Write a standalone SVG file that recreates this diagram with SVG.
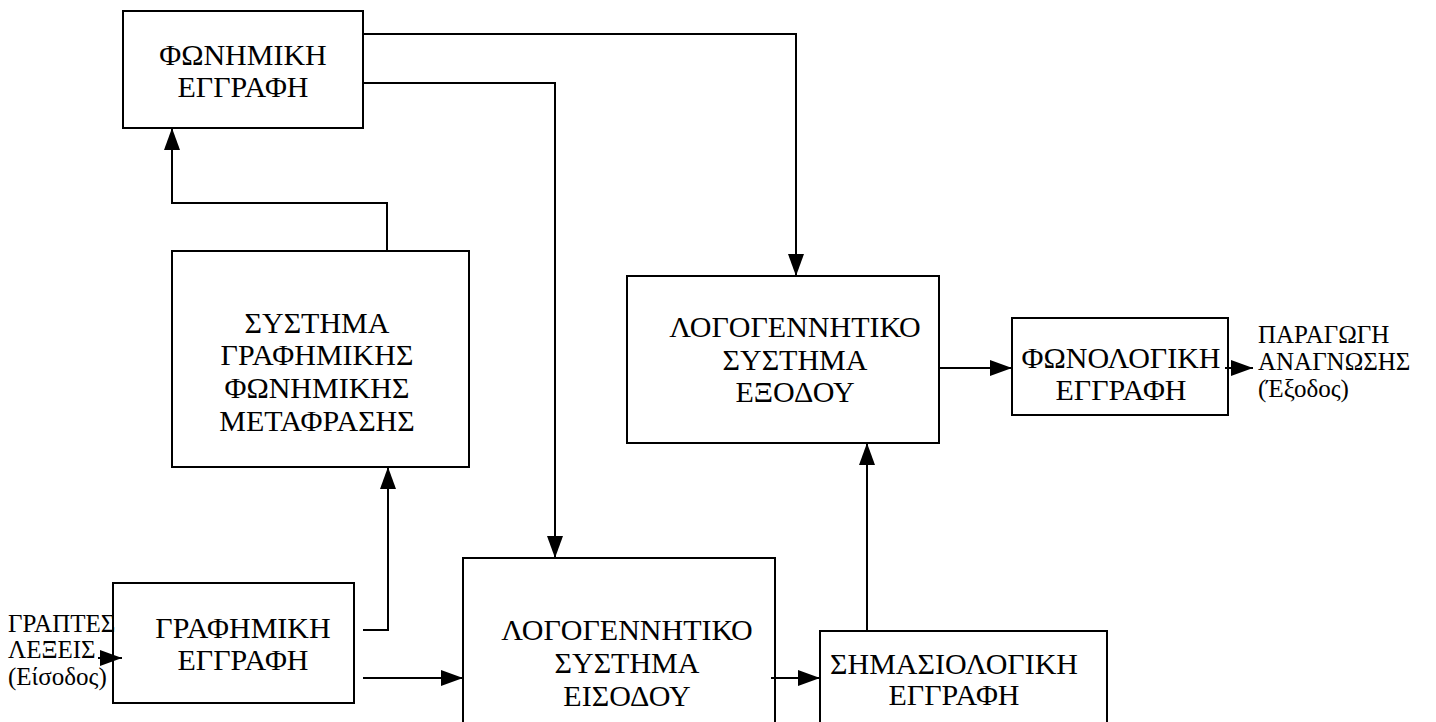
<svg xmlns="http://www.w3.org/2000/svg" width="1436" height="722" viewBox="0 0 1436 722">
<style>
.box{fill:#fff;stroke:#000;stroke-width:2}
text{font-family:"Liberation Serif","Times New Roman","DejaVu Serif",serif;fill:#000}
.t{font-size:30px;text-anchor:middle}
.s{font-size:25px}
.c{fill:none;stroke:#000;stroke-width:2}
</style>
<defs>
<marker id="ah" markerUnits="userSpaceOnUse" markerWidth="22" markerHeight="16" refX="22" refY="8" orient="auto">
<path d="M0,0 L22,8 L0,16 z" fill="#000"/>
</marker>
</defs>
<rect width="1436" height="722" fill="#fff"/>
<g id="n-phonimiki">
<rect class="box" x="123" y="11" width="240" height="117"/>
<text class="t" x="243" y="65">ΦΩΝΗΜΙΚΗ</text>
<text class="t" x="243" y="97">ΕΓΓΡΑΦΗ</text>
</g>
<g id="n-systima">
<rect class="box" x="172" y="251" width="297" height="216"/>
<text class="t" x="317" y="333">ΣΥΣΤΗΜΑ</text>
<text class="t" x="317" y="365">ΓΡΑΦΗΜΙΚΗΣ</text>
<text class="t" x="317" y="398">ΦΩΝΗΜΙΚΗΣ</text>
<text class="t" x="317" y="431">ΜΕΤΑΦΡΑΣΗΣ</text>
</g>
<g id="n-grafimiki">
<rect class="box" x="113" y="583" width="241" height="120"/>
<text class="t" x="243" y="638">ΓΡΑΦΗΜΙΚΗ</text>
<text class="t" x="243" y="670">ΕΓΓΡΑΦΗ</text>
</g>
<g id="n-eisodou">
<rect class="box" x="463" y="558" width="312" height="180"/>
<text class="t" x="627" y="640">ΛΟΓΟΓΕΝΝΗΤΙΚΟ</text>
<text class="t" x="627" y="673">ΣΥΣΤΗΜΑ</text>
<text class="t" x="627" y="706">ΕΙΣΟΔΟΥ</text>
</g>
<g id="n-simasiologiki">
<rect class="box" x="820" y="631" width="287" height="110"/>
<text class="t" x="954" y="674">ΣΗΜΑΣΙΟΛΟΓΙΚΗ</text>
<text class="t" x="954" y="705">ΕΓΓΡΑΦΗ</text>
</g>
<g id="n-exodou">
<rect class="box" x="627" y="276" width="312" height="167"/>
<text class="t" x="795" y="337">ΛΟΓΟΓΕΝΝΗΤΙΚΟ</text>
<text class="t" x="795" y="370">ΣΥΣΤΗΜΑ</text>
<text class="t" x="795" y="402">ΕΞΟΔΟΥ</text>
</g>
<g id="n-phonologiki">
<rect class="box" x="1012" y="318" width="216" height="97"/>
<text class="t" x="1121" y="368">ΦΩΝΟΛΟΓΙΚΗ</text>
<text class="t" x="1121" y="400">ΕΓΓΡΑΦΗ</text>
</g>
<g id="l-input">
<text class="s" x="8" y="632">ΓΡΑΠΤΕΣ</text>
<text class="s" x="8" y="658">ΛΕΞΕΙΣ</text>
<text class="s" x="8" y="685">(Είσοδος)</text>
</g>
<g id="l-output">
<text class="s" x="1258" y="343">ΠΑΡΑΓΩΓΗ</text>
<text class="s" x="1258" y="370">ΑΝΑΓΝΩΣΗΣ</text>
<text class="s" x="1258" y="397">(Έξοδος)</text>
</g>
<g id="connectors">
<path class="c" d="M98,658 H122" marker-end="url(#ah)"/>
<path class="c" d="M363,630 H388 V467" marker-end="url(#ah)"/>
<path class="c" d="M363,678 H463" marker-end="url(#ah)"/>
<path class="c" d="M387,251 V203 H172 V128" marker-end="url(#ah)"/>
<path class="c" d="M363,34 H796 V276" marker-end="url(#ah)"/>
<path class="c" d="M363,83 H555 V558" marker-end="url(#ah)"/>
<path class="c" d="M771,678 H820" marker-end="url(#ah)"/>
<path class="c" d="M867,631 V443" marker-end="url(#ah)"/>
<path class="c" d="M939,368 H1012" marker-end="url(#ah)"/>
<path class="c" d="M1225,368 H1253" marker-end="url(#ah)"/>
</g>
</svg>
